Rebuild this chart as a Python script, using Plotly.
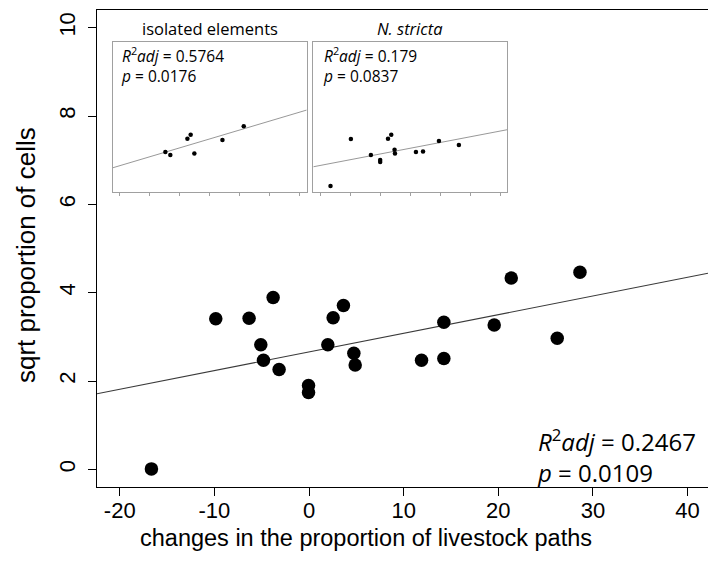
import numpy as np
import plotly.graph_objects as go

# Change in the proportion of livestock paths vs sqrt proportion of cells
x_change = [-16.65, -9.85, -6.33, -3.79, -5.09, -4.81, -3.16, -0.05, -0.05, 1.99, 2.55,
            3.64, 4.74, 4.88, 11.89, 14.25, 14.25, 19.57, 21.37, 28.63, 26.23]
y_sqrt = [0.01, 3.41, 3.42, 3.89, 2.82, 2.47, 2.26, 1.90, 1.74, 2.82, 3.43,
          3.71, 2.63, 2.36, 2.47, 3.33, 2.51, 3.27, 4.33, 4.46, 2.97]

# Inset subsets
iso_x = [-4.81, -3.16, 2.55, 3.64, 4.88, 14.25, 21.37]
iso_y = [2.47, 2.26, 3.43, 3.71, 2.36, 3.33, 4.33]

ns_x = [-16.65, -9.85, -3.16, -0.05, -0.05, 2.55, 3.64, 4.74, 4.88, 11.89, 14.25, 19.57, 26.23]
ns_y = [0.01, 3.41, 2.26, 1.90, 1.74, 3.43, 3.71, 2.63, 2.36, 2.47, 2.51, 3.27, 2.97]

x_ticks = [-20, -10, 0, 10, 20, 30, 40]
x_tick_text = ["-20", "-10", "0", "10", "20", "30", "40"]
y_ticks = [0, 2, 4, 6, 8, 10]

main_stats = ("0.2467", "0.0109")
iso_stats = ("0.5764", "0.0176")
ns_stats = ("0.179", "0.0837")

W, H = 708, 568
ML, MR, MT, MB = 97, 0, 10, 81
PW, PH = W - ML - MR, H - MT - MB

X_RANGE = [-22.4, 42.16]
Y_RANGE = [-0.4, 10.4]
IN_X = [-22.4, 42.4]
IN_Y = [-0.4, 10.4]


def px_x(p):
    return (p - ML) / PW


def px_y(p):
    return (H - MB - p) / PH


def fit_line(x, y, xr):
    b, a = np.polyfit(np.asarray(x), np.asarray(y), 1)
    xs = np.array(xr)
    return xs, a + b * xs


fig = go.Figure()

lx, ly = fit_line(x_change, y_sqrt, X_RANGE)
fig.add_trace(go.Scatter(x=lx, y=ly, mode="lines", line=dict(color="#3a3a3a", width=1.1),
                         xaxis="x", yaxis="y", hoverinfo="skip"))
fig.add_trace(go.Scatter(x=x_change, y=y_sqrt, mode="markers",
                         marker=dict(color="black", size=13.5), xaxis="x", yaxis="y"))

for xs, ys, ax in [(iso_x, iso_y, "2"), (ns_x, ns_y, "3")]:
    fx, fy = fit_line(xs, ys, IN_X)
    fig.add_trace(go.Scatter(x=fx, y=fy, mode="lines", line=dict(color="#8c8c8c", width=0.9),
                             xaxis="x" + ax, yaxis="y" + ax, hoverinfo="skip"))
    fig.add_trace(go.Scatter(x=xs, y=ys, mode="markers", marker=dict(color="black", size=4.5),
                             xaxis="x" + ax, yaxis="y" + ax))

AX_FAMILY = "Liberation Sans, Arial, sans-serif"
AX_FONT = dict(family=AX_FAMILY, size=22, color="black")
TXT = "Open Sans, sans-serif"

in_y_dom = [px_y(191.7), px_y(42.3)]
inset1_dom = [px_x(112.7), px_x(306.7)]
inset2_dom = [px_x(313.3), px_x(507.3)]

inset_x = dict(range=IN_X, showline=True, linecolor="#a0a0a0", linewidth=1, mirror=True,
               ticks="outside", ticklen=3, tickcolor="#a0a0a0", tickvals=x_ticks,
               showticklabels=False, showgrid=False, zeroline=False)
inset_y = dict(range=IN_Y, showline=True, linecolor="#a0a0a0", linewidth=1, mirror=True,
               ticks="", showticklabels=False, showgrid=False, zeroline=False, domain=in_y_dom)

fig.update_layout(
    width=W, height=H,
    margin=dict(l=ML, r=MR, t=MT, b=MB),
    paper_bgcolor="white", plot_bgcolor="white",
    showlegend=False,
    xaxis=dict(domain=[0, 1], range=X_RANGE, showline=True, linecolor="black", linewidth=1,
               mirror=True, ticks="outside", ticklen=8, tickcolor="black", tickvals=x_ticks,
               ticktext=x_tick_text, ticklabelstandoff=-4,
               tickfont=AX_FONT, showgrid=False, zeroline=False),
    yaxis=dict(domain=[0, 1], range=Y_RANGE, showline=True, linecolor="black", linewidth=1,
               ticks="outside", ticklen=8, tickcolor="black", tickvals=y_ticks, tickangle=-90,
               ticklabelstandoff=4,
               tickfont=AX_FONT, showgrid=False, zeroline=False),
    xaxis2=dict(domain=inset1_dom, anchor="y2", **inset_x),
    yaxis2=dict(anchor="x2", **inset_y),
    xaxis3=dict(domain=inset2_dom, anchor="y3", **inset_x),
    yaxis3=dict(anchor="x3", **inset_y),
)

ann = []
# axis titles
ann.append(dict(text="changes in the proportion of livestock paths", x=px_x(366), y=px_y(538),
                xref="paper", yref="paper", showarrow=False,
                font=dict(family=AX_FAMILY, size=23.5, color="black"),
                xanchor="center", yanchor="middle"))
ann.append(dict(text="sqrt proportion of cells", x=px_x(26), y=px_y(255),
                xref="paper", yref="paper", showarrow=False,
                font=dict(family=AX_FAMILY, size=26, color="black"), textangle=-90,
                xanchor="center", yanchor="middle"))


def stats(r2, p, x0, y_top, size):
    return dict(text="<i>R</i><sup>2</sup><i>adj</i> = " + r2 + "<br><i>p</i> = " + p,
                x=px_x(x0), y=px_y(y_top), xref="paper", yref="paper", showarrow=False,
                xanchor="left", yanchor="top", align="left",
                font=dict(family=TXT, size=size, color="black"))


ann.append(stats(*main_stats, 535, 421, 24))
ann.append(stats(*iso_stats, 119, 41, 15.5))
ann.append(stats(*ns_stats, 321, 41, 15.5))

ann.append(dict(text="isolated elements", x=px_x(209.7), y=px_y(28.5), xref="paper", yref="paper",
                showarrow=False, xanchor="center", yanchor="middle",
                font=dict(family=TXT, size=16.5, color="black")))
ann.append(dict(text="<i>N. stricta</i>", x=px_x(410.3), y=px_y(28.5), xref="paper", yref="paper",
                showarrow=False, xanchor="center", yanchor="middle",
                font=dict(family=TXT, size=16.5, color="black")))

fig.update_layout(annotations=ann)

fig.write_html("out.html")
